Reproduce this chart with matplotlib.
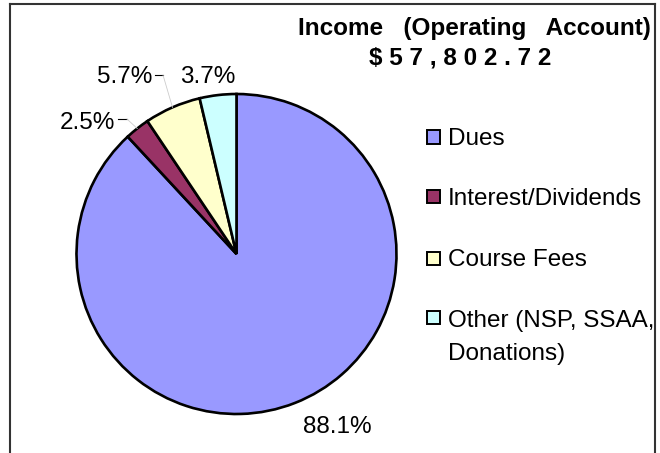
import matplotlib
matplotlib.use("Agg")
import matplotlib.pyplot as plt
from matplotlib.patches import Rectangle
from matplotlib.lines import Line2D
import numpy as np

# ---- data ----
categories = ["Dues", "Interest/Dividends", "Course Fees", "Other (NSP, SSAA,\nDonations)"]
values = [88.1, 2.5, 5.7, 3.7]
colors = ["#9999FF", "#993366", "#FFFFCC", "#CCFFFF"]
title_line1 = "Income   (Operating   Account)"
title_line2 = "$ 5 7 , 8 0 2 . 7 2"

plt.rcParams['font.family'] = ['Liberation Sans', 'DejaVu Sans']

W, H = 660, 453
fig = plt.figure(figsize=(W / 100, H / 100), dpi=100)
FS = 17.5

def fx(px):
    return px / W

def fy(py):
    return 1 - py / H

# pie axes: centre (236.5, 254) px, radius 160 px
cx, cy, R = 236.5, 254, 160
ax = fig.add_axes([fx(cx - R), fy(cy + R), 2 * R / W, 2 * R / H])
wedges, _ = ax.pie(values, colors=colors, startangle=90, counterclock=False,
                   radius=1, wedgeprops=dict(edgecolor="black", linewidth=1.9))
ax.set_xlim(-1, 1)
ax.set_ylim(-1, 1)
ax.set_aspect("equal")
ax.axis("off")

def d(px, py):
    return (px - cx) / R, (cy - py) / R

# label layout (pixel positions of text anchor, alignment, dash span)
label_layout = {
    0: dict(pos=(303, 427), ha="left", dash=None),
    1: dict(pos=(115, 123), ha="right", dash=(118, 127, 119)),
    2: dict(pos=(152, 77), ha="right", dash=(155, 163, 75)),
    3: dict(pos=(180, 77), ha="left", dash=None),
}
for i, (w, v) in enumerate(zip(wedges, values)):
    lay = label_layout[i]
    tx, ty = d(*lay["pos"])
    ax.text(tx, ty, f"{v:.1f}%", ha=lay["ha"], va="center", fontsize=FS,
            color="black", clip_on=False)
    if lay["dash"] is not None:
        x0, x1, yy = lay["dash"]
        dx0, dy0 = d(x0, yy)
        dx1, _ = d(x1, yy)
        ax.plot([dx0, dx1], [dy0, dy0], color="black", lw=0.8, clip_on=False)
        ang = np.deg2rad((w.theta1 + w.theta2) / 2)
        ax.plot([dx1, np.cos(ang)], [dy0, np.sin(ang)], color="#cccccc",
                lw=0.6, clip_on=False)

# legend (manual)
leg_rows = [137, 197, 258, 317]
line_gap = 35
for cat, col, yc in zip(categories, colors, leg_rows):
    fig.add_artist(Rectangle((fx(427), fy(yc + 6.5)), 13 / W, 13 / H,
                             transform=fig.transFigure, facecolor=col,
                             edgecolor="black", linewidth=1.4))
    n_extra = cat.count("\n")
    fig.text(fx(448), fy(yc + 8 + line_gap * n_extra), cat, ha="left",
             va="baseline", fontsize=FS, linespacing=1.62, color="black")

# title
fig.text(fx(651), fy(28), title_line1, ha="right", va="center",
         fontsize=FS, fontweight="bold")
fig.text(fx(460), fy(58.5), title_line2, ha="center", va="center",
         fontsize=FS, fontweight="bold")

# frame (open at bottom)
fc = "#333333"
fig.add_artist(Line2D([fx(9.5), fx(9.5)], [fy(3.5), 0], color=fc, lw=1.5,
                      transform=fig.transFigure))
fig.add_artist(Line2D([fx(9.5), fx(655)], [fy(3.5), fy(3.5)], color=fc, lw=1.5,
                      transform=fig.transFigure))
fig.add_artist(Line2D([fx(655), fx(655)], [fy(3.5), 0], color=fc, lw=1.5,
                      transform=fig.transFigure))

fig.savefig("out.png", dpi=100)
